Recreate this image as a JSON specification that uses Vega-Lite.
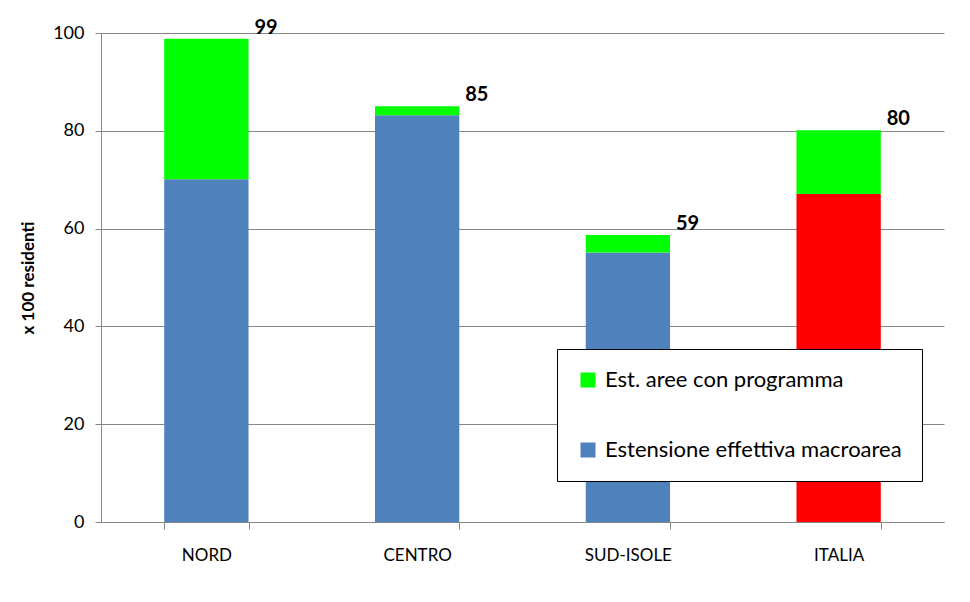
{
  "$schema": "https://vega.github.io/schema/vega-lite/v6.json",
  "autosize": {"type": "none"},
  "width": 843,
  "height": 489,
  "padding": {"left": 101, "top": 33, "right": 26, "bottom": 80},
  "background": "white",
  "config": {
    "font": "Lato",
    "view": {"stroke": null}
  },
  "datasets": {
    "barre": [
      {"regione": "NORD", "tipo": "a_effettiva", "serie": "Estensione effettiva macroarea", "valore": 70.1},
      {"regione": "NORD", "tipo": "b_programma", "serie": "Est. aree con programma", "valore": 28.7},
      {"regione": "CENTRO", "tipo": "a_effettiva", "serie": "Estensione effettiva macroarea", "valore": 83.2},
      {"regione": "CENTRO", "tipo": "b_programma", "serie": "Est. aree con programma", "valore": 1.8},
      {"regione": "SUD-ISOLE", "tipo": "a_effettiva", "serie": "Estensione effettiva macroarea", "valore": 55.1},
      {"regione": "SUD-ISOLE", "tipo": "b_programma", "serie": "Est. aree con programma", "valore": 3.6},
      {"regione": "ITALIA", "tipo": "a_effettiva", "serie": "Italia", "valore": 67.1},
      {"regione": "ITALIA", "tipo": "b_programma", "serie": "Est. aree con programma", "valore": 13.0}
    ],
    "totali": [
      {"regione": "NORD", "totale": 98.8, "etichetta": "99"},
      {"regione": "CENTRO", "totale": 85.0, "etichetta": "85"},
      {"regione": "SUD-ISOLE", "totale": 58.7, "etichetta": "59"},
      {"regione": "ITALIA", "totale": 80.1, "etichetta": "80"}
    ]
  },
  "layer": [
    {
      "data": {"name": "barre"},
      "mark": {"type": "bar"},
      "encoding": {
        "x": {
          "field": "regione",
          "type": "nominal",
          "sort": ["NORD", "CENTRO", "SUD-ISOLE", "ITALIA"],
          "scale": {"paddingInner": 0.6, "paddingOuter": 0.3},
          "axis": {
            "title": null,
            "labelAngle": 0,
            "labelFont": "Lato",
            "labelFontSize": 17,
            "labelColor": "#000000",
            "labelPadding": 18,
            "tickBand": "extent",
            "tickSize": 7,
            "tickColor": "#868686",
            "domainColor": "#868686",
            "grid": false
          }
        },
        "y": {
          "field": "valore",
          "type": "quantitative",
          "aggregate": "sum",
          "stack": "zero",
          "scale": {"domain": [0, 100], "nice": false},
          "axis": {
            "title": "x 100  residenti",
            "titleFont": "Lato",
            "titleFontSize": 17,
            "titleFontWeight": "bold",
            "titleColor": "#000000",
            "titlePadding": 15,
            "values": [0, 20, 40, 60, 80, 100],
            "labelFont": "Lato",
            "labelFontSize": 18,
            "labelColor": "#000000",
            "labelPadding": 11,
            "tickSize": 6,
            "tickColor": "#868686",
            "domainColor": "#868686",
            "gridColor": "#868686",
            "gridWidth": 1,
            "grid": true
          }
        },
        "color": {
          "field": "serie",
          "type": "nominal",
          "scale": {
            "domain": ["Est. aree con programma", "Estensione effettiva macroarea", "Italia"],
            "range": ["#00FF00", "#4F81BD", "#FF0000"]
          },
          "legend": {
            "values": ["Est. aree con programma", "Estensione effettiva macroarea"],
            "title": null,
            "orient": "none",
            "legendX": 456,
            "legendY": 316,
            "direction": "vertical",
            "symbolType": "square",
            "symbolSize": 225,
            "symbolStrokeWidth": 0,
            "labelFont": "Lato",
            "labelFontSize": 22,
            "labelLimit": 0,
            "labelColor": "#000000",
            "labelOffset": 6,
            "rowPadding": 48,
            "padding": 20,
            "strokeColor": "#000000",
            "fillColor": "#FFFFFF"
          }
        },
        "order": {"field": "tipo", "type": "nominal", "sort": "ascending"}
      }
    },
    {
      "data": {"name": "totali"},
      "mark": {"type": "text", "align": "left", "baseline": "middle", "dx": 48, "dy": -11, "fontSize": 20, "fontWeight": "bold", "font": "Lato", "color": "#000000"},
      "encoding": {
        "x": {"field": "regione", "type": "nominal", "sort": ["NORD", "CENTRO", "SUD-ISOLE", "ITALIA"]},
        "y": {"field": "totale", "type": "quantitative"},
        "text": {"field": "etichetta", "type": "nominal"}
      }
    }
  ]
}
